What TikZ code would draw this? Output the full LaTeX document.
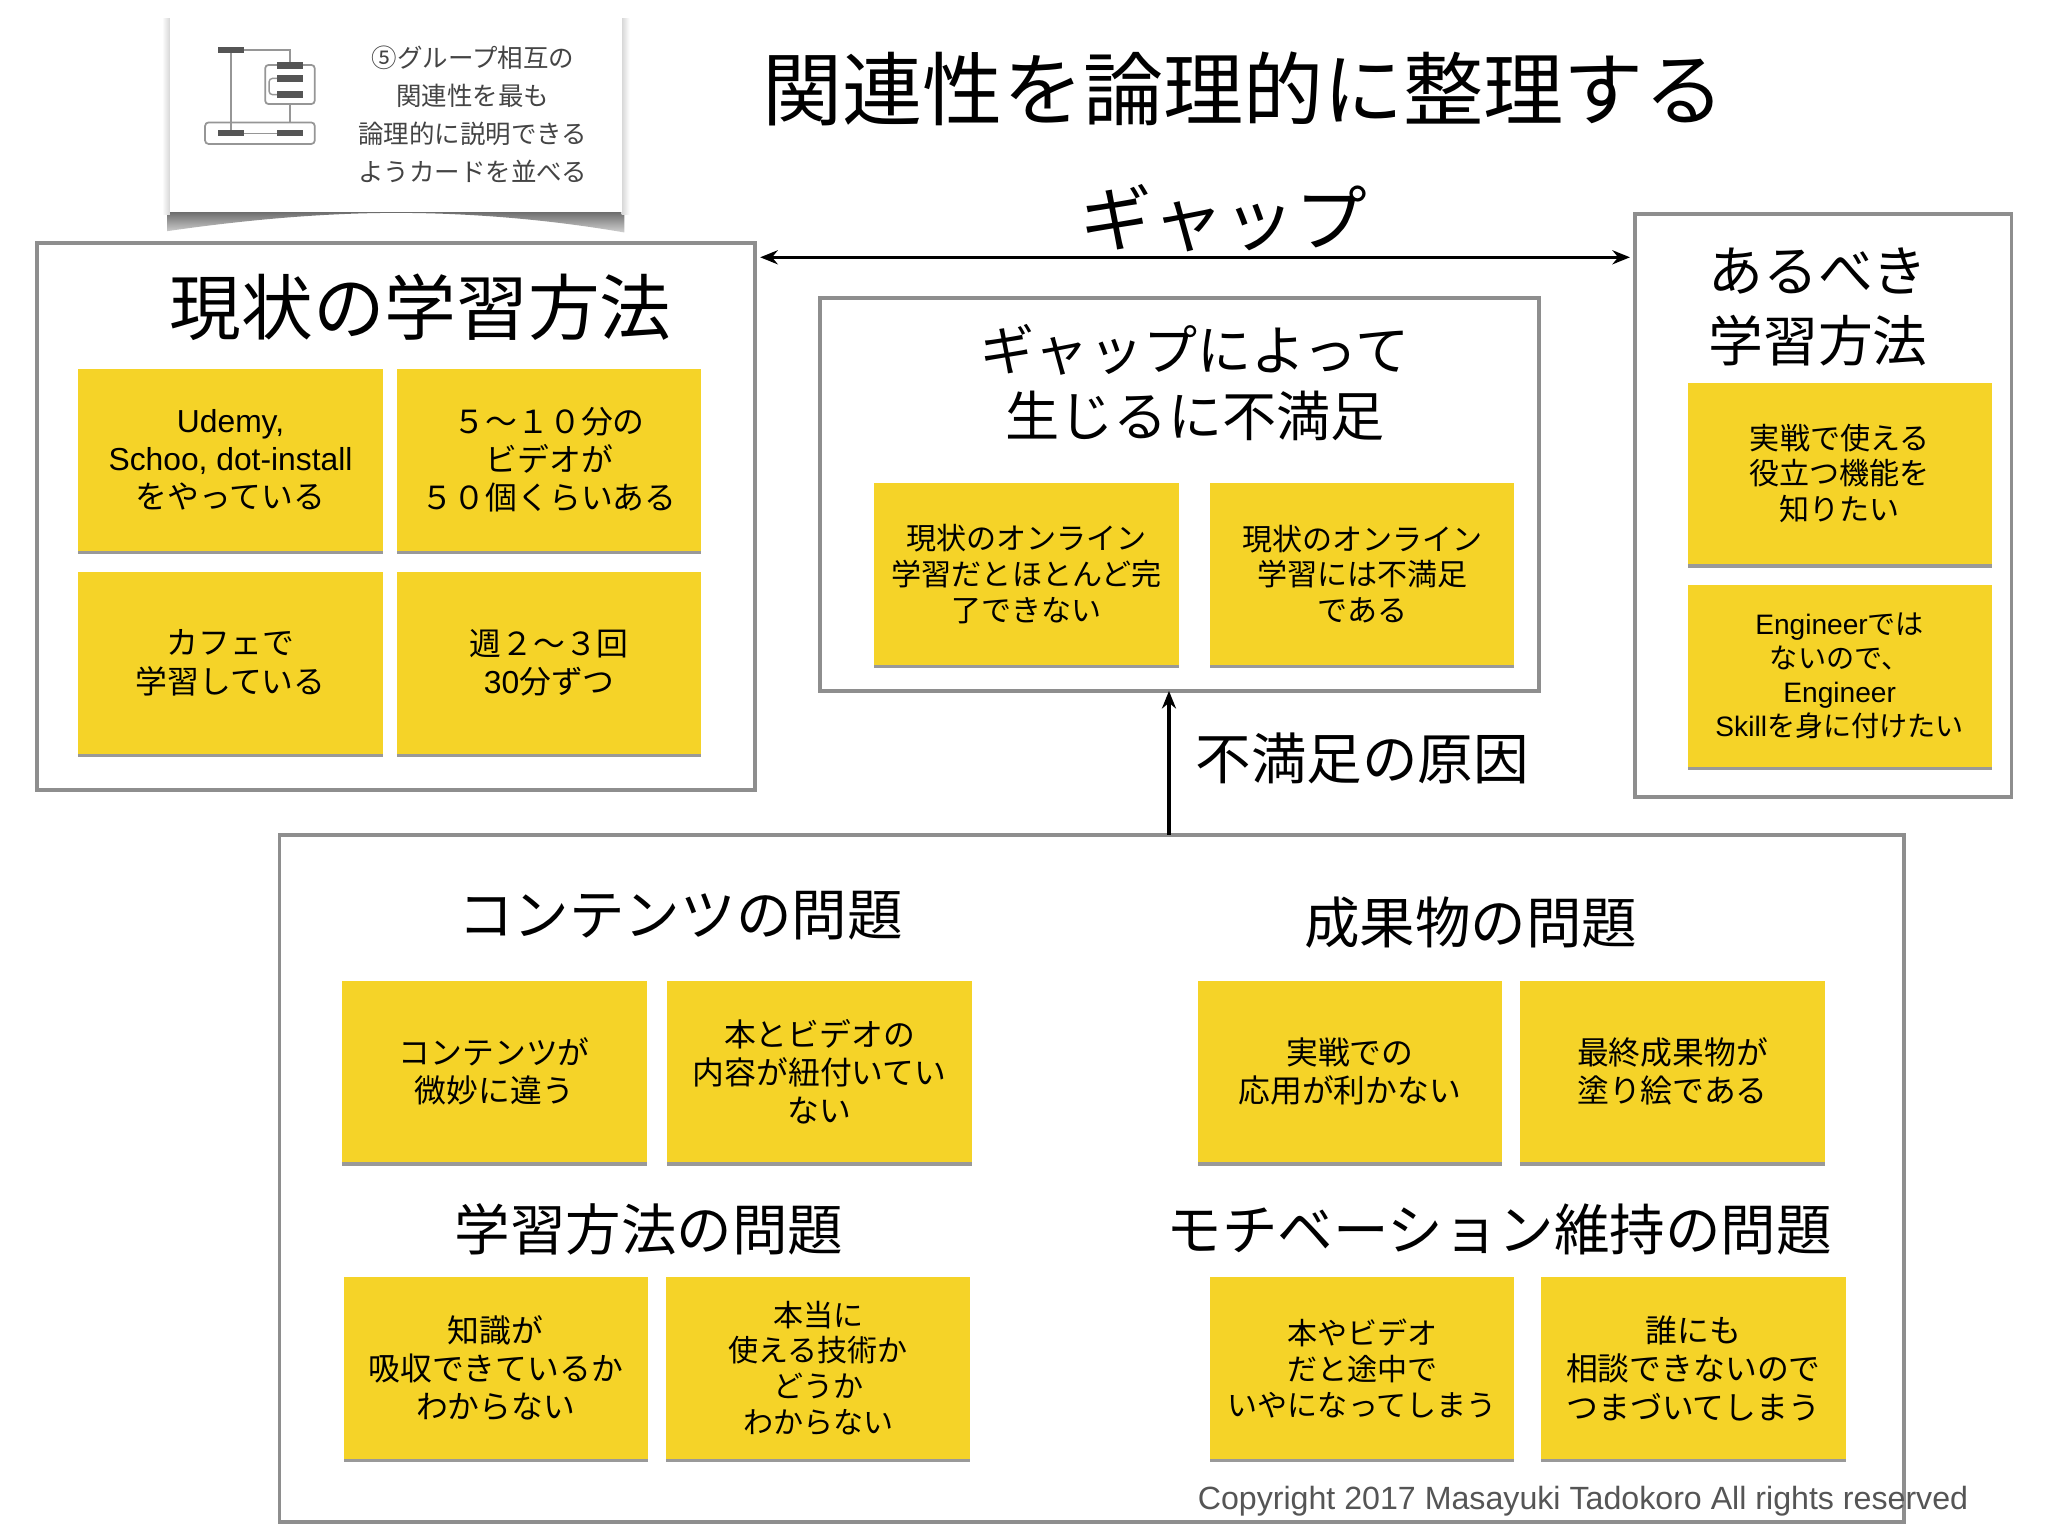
\documentclass[tikz,border=0pt]{standalone}
\usepackage{fontspec}
\setmainfont{Noto Sans CJK JP}
\newfontfamily\latinfont{Liberation Sans}
\usetikzlibrary{arrows.meta,shadows}
\definecolor{cardyellow}{RGB}{245,211,40}
\definecolor{framegrey}{RGB}{142,142,142}
\definecolor{papergrey}{RGB}{68,68,68}
\definecolor{minigrey}{RGB}{85,85,85}
\definecolor{lightgrey}{RGB}{150,150,150}
\newcommand{\ux}{0.013061cm}
\newcommand{\la}[1]{{\latinfont #1}}
\tikzset{
  groupbox/.style={draw=framegrey,line width=1.1pt,fill=white,outer sep=0pt,inner sep=0pt},
  card/.style={fill=cardyellow,minimum width=233*\ux,minimum height=139*\ux,align=center,
    inner sep=0pt,outer sep=0pt,font=\fontsize{9.05}{10.9}\selectfont,
    drop shadow={shadow xshift=0pt,shadow yshift=-1pt,fill=black!40,opacity=1}},
  cardsmall/.style={card,font=\fontsize{8.55}{10.2}\selectfont},
  headbig/.style={align=center,inner sep=0pt,font=\fontsize{20.4}{20.4}\selectfont},
  headmid/.style={align=center,inner sep=0pt,font=\fontsize{15.8}{19.5}\selectfont},
  minibar/.style={fill=minigrey,minimum width=20*\ux,minimum height=5*\ux,inner sep=0pt,outer sep=0pt},
  miniframe/.style={draw=lightgrey,line width=.5pt,rounded corners=1pt,inner sep=0pt,outer sep=0pt},
  miniline/.style={draw=lightgrey,line width=.4pt},
}
\begin{document}
\begin{tikzpicture}[x=0.013061cm,y=-0.013061cm]
  \useasboundingbox (0,0) rectangle (1568,1176);
  % Paper with the step
  \shade[top color=black!58,bottom color=black!18]
    (128,162) -- (128,177) .. controls (190,168) and (250,163) .. (303,163)
    .. controls (360,163) and (420,168) .. (478,178) -- (478,162) -- cycle;
  \shade[left color=white,right color=black!16] (124,14) rectangle (130,164);
  \shade[left color=black!16,right color=white] (476,14) rectangle (482,164);
  \fill[white] (130,11) rectangle (476,162);
  \node[align=center,inner sep=0pt,text=papergrey,font=\fontsize{7.25}{10.75}\selectfont] (steptext) at (362,87.5)
    {⑤グループ相互の\\関連性を最も\\論理的に説明できる\\ようカードを並べる};
  % Small chart on the paper
  \node[miniframe,minimum width=38*\ux,minimum height=30*\ux] (minitop) at (222,64.7) {};
  \node[miniframe,minimum width=84*\ux,minimum height=16.5*\ux] (minilow) at (199,102) {};
  \node[minibar] (barone) at (177,38.2) {};
  \node[minibar] (bartwo) at (222,50) {};
  \node[minibar] (barthree) at (222,60) {};
  \node[minibar] (barfour) at (222,72.5) {};
  \node[minibar] (barfive) at (177,102) {};
  \node[minibar] (barsix) at (222,102) {};
  \draw[miniline] (barone) -- (barfive);
  \draw[miniline] (barone) -| (bartwo);
  \draw[miniline] (barfour |- minitop.south) -- (barfour |- minilow.north);
  \draw[miniline] (barfive) -- (barsix);
  \draw[miniline,rounded corners=1pt] (barthree.west) -- ++(-6,0) |- (barfour.west);
  % Title
  \node[inner sep=0pt,font=\fontsize{22.8}{22.8}\selectfont] (title) at (952,68) {関連性を論理的に整理する};
  % Frames
  \node[groupbox,minimum width=550*\ux,minimum height=419*\ux] (nowbox) at (303,395.5) {};
  \node[groupbox,minimum width=550*\ux,minimum height=301*\ux] (gapbox) at (903,378.5) {};
  \node[groupbox,minimum width=288*\ux,minimum height=446*\ux] (idealbox) at (1396,387) {};
  \node[groupbox,minimum width=1244*\ux,minimum height=526*\ux] (causebox) at (836,902) {};
  % Heads
  \node[headbig] (gaphead) at (937,167) {ギャップ};
  \node[headbig] (nowhead) at (322,235) {現状の学習方法};
  \node[headmid,font=\fontsize{15.6}{20}\selectfont] (idealhead) at (1392,235) {あるべき\\学習方法};
  \node[headmid,font=\fontsize{15.4}{18.9}\selectfont] (gapsub) at (915,293) {ギャップによって\\生じるに不満足};
  \node[headmid] (causehead) at (1043,581) {不満足の原因};
  \node[headmid] (contenthead) at (521,701) {コンテンツの問題};
  \node[headmid] (resulthead) at (1126,706) {成果物の問題};
  \node[headmid] (studyhead) at (497,941) {学習方法の問題};
  \node[headmid] (motivehead) at (1148,941) {モチベーション維持の問題};
  % Current method
  \node[card] (nowa) at (176.5,352) {\la{Udemy,}\\\la{Schoo, dot-install}\\をやっている};
  \node[card] (nowb) at (420.5,352) {５～１０分の\\ビデオが\\５０個くらいある};
  \node[card] (nowc) at (176.5,507.5) {カフェで\\学習している};
  \node[card] (nowd) at (420.5,507.5) {週２～３回\\\la{30}分ずつ};
  % Dissatisfaction
  \node[cardsmall] (gapa) at (786,439.5) {現状のオンライン\\学習だとほとんど完\\了できない};
  \node[cardsmall] (gapb) at (1043,439.5) {現状のオンライン\\学習には不満足\\である};
  % Ideal method
  \node[cardsmall] (ideala) at (1408.5,362.5) {実戦で使える\\役立つ機能を\\知りたい};
  \node[cardsmall,font=\fontsize{8}{9.6}\selectfont] (idealb) at (1408.5,517.5)
    {\la{Engineer}では\\ないので、\\\la{Engineer}\\\la{Skill}を身に付けたい};
  % Causes
  \node[card] (causea) at (378.5,820.5) {コンテンツが\\微妙に違う};
  \node[card] (causeb) at (627.5,820.5) {本とビデオの\\内容が紐付いてい\\ない};
  \node[card] (causec) at (1033.5,820.5) {実戦での\\応用が利かない};
  \node[card] (caused) at (1280.5,820.5) {最終成果物が\\塗り絵である};
  \node[card] (causee) at (379.5,1047.5) {知識が\\吸収できているか\\わからない};
  \node[cardsmall] (causef) at (626.5,1047.5) {本当に\\使える技術か\\どうか\\わからない};
  \node[cardsmall] (causeg) at (1043,1047.5) {本やビデオ\\だと途中で\\いやになってしまう};
  \node[card] (causeh) at (1296.5,1047.5) {誰にも\\相談できないので\\つまづいてしまう};
  % Arrows
  \coordinate (gaplevel) at (900,197);
  \coordinate (upline) at (895,600);
  \draw[{Stealth[length=5pt,width=4pt]}-{Stealth[length=5pt,width=4pt]},line width=.8pt,shorten <=1.5pt,shorten >=1.5pt]
    (nowbox.east |- gaplevel) -- (idealbox.west |- gaplevel);
  \draw[-{Stealth[length=5pt,width=4pt]},line width=1pt] (upline |- causebox.north) -- (upline |- gapbox.south);
  % Copyright
  \node[inner sep=0pt,text=minigrey,font=\latinfont\fontsize{9.15}{10}\selectfont] (copyright) at (1212,1149)
    {Copyright 2017 Masayuki Tadokoro All rights reserved};
\end{tikzpicture}
\end{document}
